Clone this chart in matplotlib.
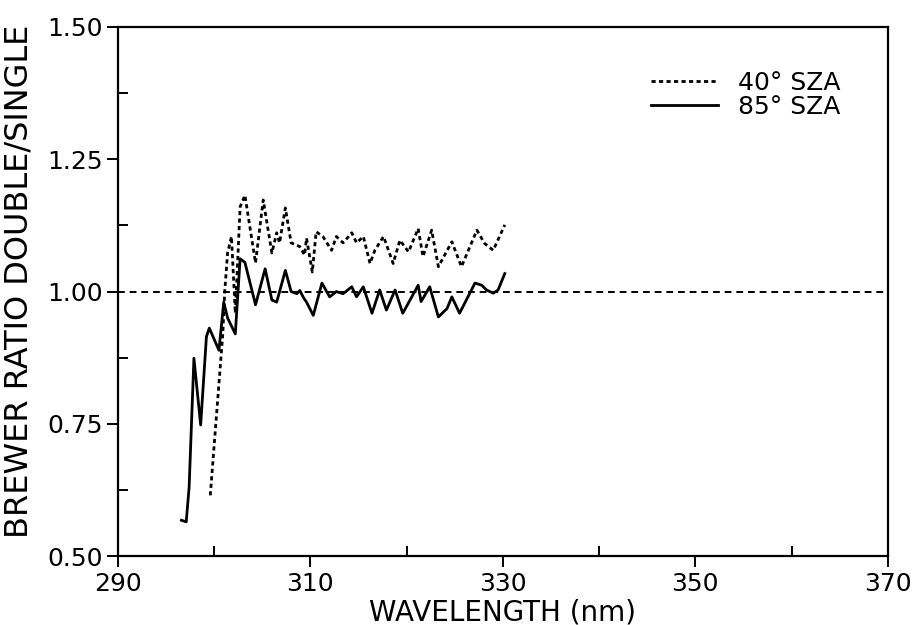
import matplotlib
matplotlib.use("Agg")
from matplotlib import pyplot as plt
from matplotlib.ticker import MultipleLocator

# 85 deg SZA (solid)
wl_85 = [296.6, 297.1, 297.4, 297.9, 298.6, 299.2, 299.5, 300.5, 301.0, 301.4,
         302.2, 302.7, 303.2, 304.3, 305.3, 306.0, 306.5, 307.4, 308.0, 308.6,
         308.9, 309.3, 309.6, 310.3, 311.2, 312.0, 312.7, 313.4, 314.3, 314.8,
         315.5, 316.4, 317.2, 317.9, 318.8, 319.6, 321.2, 321.5, 322.4, 323.3,
         324.2, 324.7, 325.5, 327.1, 327.8, 328.3, 329.0, 329.5, 330.2]
ratio_85 = [0.568, 0.565, 0.63, 0.874, 0.748, 0.915, 0.931, 0.889, 0.98, 0.95,
            0.92, 1.062, 1.055, 0.975, 1.043, 0.984, 0.98, 1.04, 1.0, 0.996,
            1.002, 0.988, 0.98, 0.955, 1.016, 0.99, 1.0, 0.996, 1.009, 0.99,
            1.009, 0.959, 1.003, 0.965, 1.003, 0.959, 1.012, 0.981, 1.009, 0.952,
            0.968, 0.99, 0.959, 1.016, 1.012, 1.003, 0.997, 1.003, 1.034]

# 40 deg SZA (dotted)
wl_40 = [299.6, 300.9, 301.1, 301.4, 301.8, 302.2, 302.7, 303.2, 304.3, 305.1,
         306.0, 306.5, 306.8, 307.4, 308.0, 308.9, 309.4, 309.6, 310.2, 310.6,
         311.3, 312.2, 312.7, 313.4, 314.3, 314.8, 315.5, 316.2, 316.7, 317.6,
         318.6, 319.3, 320.2, 321.2, 321.7, 322.6, 323.3, 324.7, 325.7, 327.3,
         328.1, 329.0, 330.2]
ratio_40 = [0.615, 0.92, 1.0, 1.073, 1.104, 0.959, 1.16, 1.182, 1.054, 1.173,
            1.073, 1.111, 1.092, 1.158, 1.092, 1.085, 1.069, 1.101, 1.037, 1.113,
            1.104, 1.078, 1.104, 1.092, 1.111, 1.092, 1.104, 1.053, 1.078, 1.104,
            1.053, 1.097, 1.075, 1.119, 1.066, 1.116, 1.047, 1.094, 1.047, 1.116,
            1.091, 1.078, 1.126]

xticks = [290, 310, 330, 350, 370]
yticks = [0.50, 0.75, 1.00, 1.25, 1.50]

plt.rcParams['font.family'] = ['DejaVu Sans']

fig = plt.figure(figsize=(9.21, 6.25), dpi=100)
ax = fig.add_axes([0.128, 0.110, 0.836, 0.847])

ax.axhline(1.0, color='black', lw=1.4, linestyle=(0, (3.5, 2.5)))
ax.plot(wl_40, ratio_40, color='black', lw=2.0, linestyle=(0, (1.5, 1.2)), label='40° SZA')
ax.plot(wl_85, ratio_85, color='black', lw=2.0, linestyle='-', label='85° SZA')

ax.set_xlim(290, 370)
ax.set_ylim(0.5, 1.5)
ax.set_xticks(xticks)
ax.set_yticks(yticks)
ax.set_yticklabels([f"{v:.2f}" for v in yticks])
ax.xaxis.set_minor_locator(MultipleLocator(10))
ax.yaxis.set_minor_locator(MultipleLocator(0.125))
ax.tick_params(which='major', direction='out', length=8, width=1.4, labelsize=18, pad=3)
ax.tick_params(which='minor', direction='in', length=7, width=1.4)
for s in ax.spines.values():
    s.set_linewidth(1.6)

ax.set_xlabel('WAVELENGTH (nm)', fontsize=20, labelpad=2)
ax.set_ylabel('BREWER RATIO DOUBLE/SINGLE', fontsize=23)
ax.yaxis.set_label_coords(-0.108, 0.52)

ax.legend(loc='upper left', bbox_to_anchor=(0.692, 0.917), frameon=False,
          fontsize=18, handlelength=2.7, handletextpad=0.8, labelspacing=0.0,
          borderpad=0, borderaxespad=0)

fig.savefig('out.png', dpi=100, facecolor='white')
